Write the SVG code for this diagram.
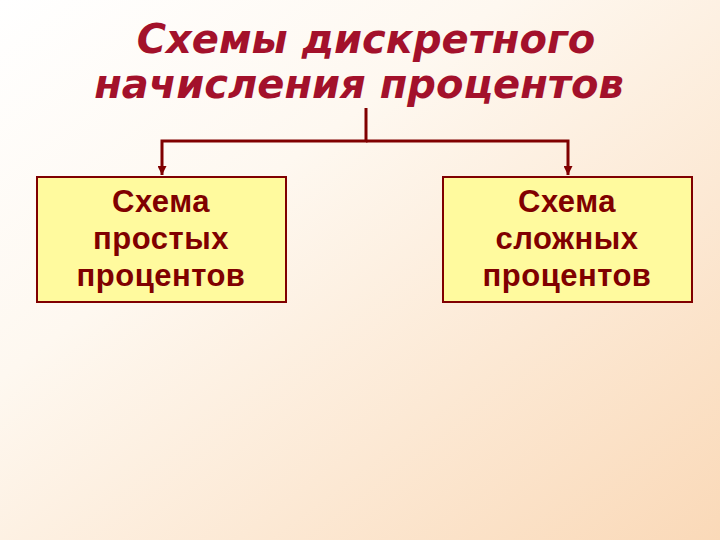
<svg xmlns="http://www.w3.org/2000/svg" width="720" height="540" viewBox="0 0 720 540">
<defs>
<linearGradient id="bg" x1="0" y1="0" x2="1" y2="1">
<stop offset="0" stop-color="#FFFFFF"/>
<stop offset="0.35" stop-color="#FEF8F0"/>
<stop offset="1" stop-color="#FAD9B8"/>
</linearGradient>
<marker id="arr" viewBox="0 0 10 10" refX="10" refY="5" markerWidth="10" markerHeight="9" markerUnits="userSpaceOnUse" orient="auto">
<path d="M0,0 L10,5 L0,10 z" fill="#800000"/>
</marker>
<style>
.title{font-family:"DejaVu Sans",Verdana,sans-serif;font-weight:bold;font-style:italic;font-size:40px;fill:#A3112B;text-anchor:middle}
.box{fill:#FFFA9E;stroke:#800000;stroke-width:2}
.lbl{font-family:"Liberation Sans",Arial,sans-serif;font-weight:bold;font-size:31px;letter-spacing:0.5px;fill:#800000;text-anchor:middle}
.conn{fill:none;stroke:#800000;stroke-width:3}
</style>
</defs>
<rect width="720" height="540" fill="url(#bg)"/>
<g id="title">
<text class="title" x="366" y="53">Схемы дискретного</text>
<text class="title" x="359" y="98">начисления процентов</text>
</g>
<g id="connectors">
<path class="conn" d="M366,108 V141 H162 V175" marker-end="url(#arr)"/>
<path class="conn" d="M366,141 H568 V175" marker-end="url(#arr)"/>
</g>
<g id="node-simple">
<rect class="box" x="37" y="177" width="249" height="125"/>
<text class="lbl" x="161" y="212">Схема</text>
<text class="lbl" x="161" y="249">простых</text>
<text class="lbl" x="161" y="286">процентов</text>
</g>
<g id="node-compound">
<rect class="box" x="443" y="177" width="249" height="125"/>
<text class="lbl" x="567" y="212">Схема</text>
<text class="lbl" x="567" y="249">сложных</text>
<text class="lbl" x="567" y="286">процентов</text>
</g>
</svg>
